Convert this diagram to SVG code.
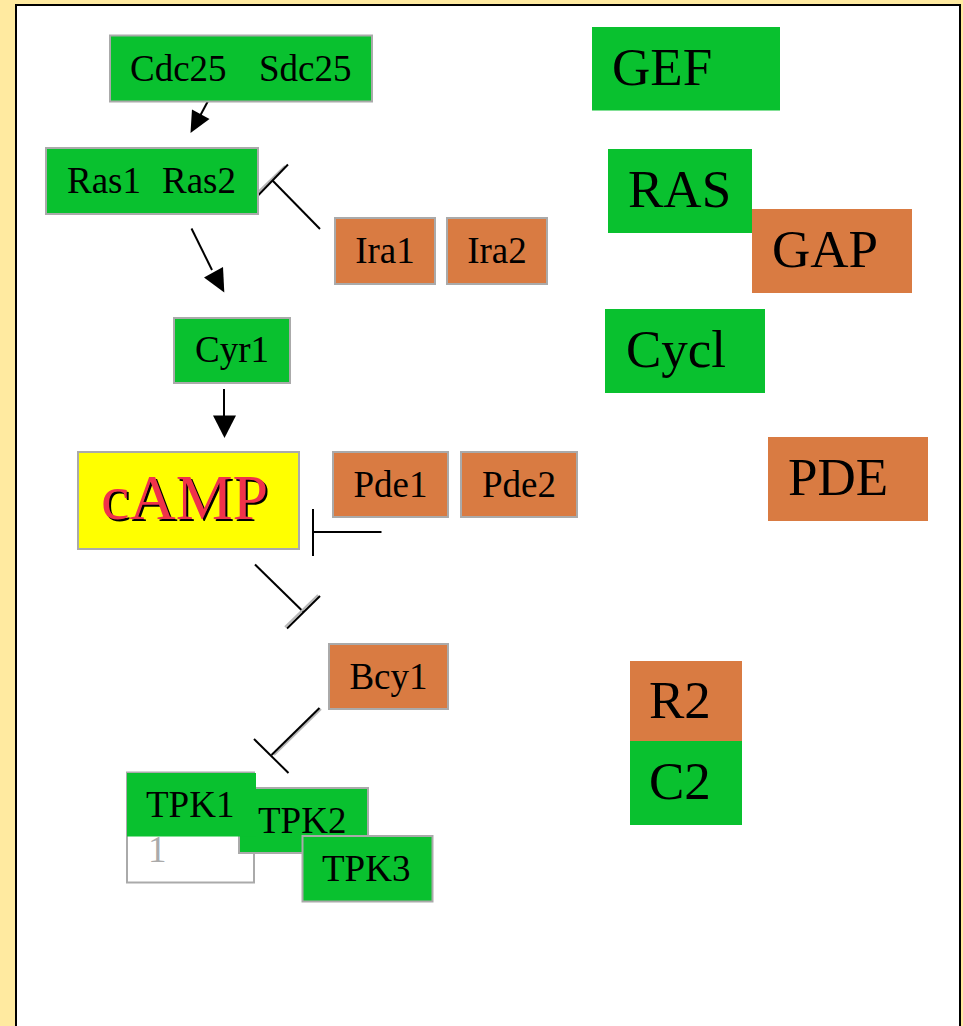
<svg xmlns="http://www.w3.org/2000/svg" width="963" height="1026" viewBox="0 0 963 1026">
  <style>
    .box { stroke: #aaaaaa; stroke-width: 2; }
    .g { fill: #09c12f; }
    .o { fill: #d97b42; }
    .t { font-family: "Liberation Serif", "Times New Roman", serif; font-size: 37px; fill: #000; }
    .big { font-family: "Liberation Serif", "Times New Roman", serif; font-size: 53px; fill: #000; }
    .ln { stroke: #000; stroke-width: 2; fill: none; }
    .sh { stroke: #b8b8b8; stroke-width: 2; fill: none; }
  </style>
  <rect x="0" y="0" width="963" height="1026" fill="#ffeaa0"/>
  <rect x="16" y="5" width="944" height="1040" fill="#ffffff" stroke="#000" stroke-width="2"/>

  <g id="connectors">
    <!-- Cdc25 -> Ras -->
    <line class="ln" x1="208" y1="101" x2="200" y2="116"/>
    <polygon points="190.5,133 192,109.5 209.5,119" fill="#000"/>
    <!-- Ira -| Ras -->
    <line class="sh" x1="255" y1="195" x2="285" y2="166"/>
    <line class="ln" x1="257" y1="196.5" x2="288" y2="164.5"/>
    <line class="ln" x1="272.5" y1="180.5" x2="320" y2="229"/>
    <!-- Ras -> Cyr1 -->
    <line class="ln" x1="191.5" y1="228.5" x2="212" y2="270"/>
    <polygon points="224.3,292.5 204,277.5 223,267" fill="#000"/>
    <!-- Cyr1 -> cAMP -->
    <line class="ln" x1="224" y1="389" x2="224" y2="418"/>
    <polygon points="224.5,438 213,415.5 236,415.5" fill="#000"/>
    <!-- Pde -| cAMP -->
    <line class="ln" x1="313" y1="509" x2="313" y2="556"/>
    <line class="ln" x1="313" y1="532" x2="381.5" y2="532"/>
    <!-- cAMP -| Bcy1 -->
    <line class="ln" x1="255" y1="564.5" x2="303.5" y2="612"/>
    <line class="sh" x1="285" y1="627" x2="318" y2="595"/>
    <line class="ln" x1="287" y1="628.5" x2="320" y2="596"/>
    <!-- Bcy1 -| TPK -->
    <line class="sh" x1="321" y1="709" x2="274" y2="755"/>
    <line class="ln" x1="319.5" y1="708" x2="271.5" y2="755"/>
    <line class="ln" x1="254" y1="739" x2="288.5" y2="773"/>
  </g>

  <g id="cdc25">
    <rect class="box g" x="110" y="35.5" width="262" height="66"/>
    <text class="t" x="130" y="81">Cdc25</text>
    <text class="t" x="259" y="81">Sdc25</text>
  </g>
  <g id="ras">
    <rect class="box g" x="46" y="148" width="212" height="66"/>
    <text class="t" x="67" y="193">Ras1</text>
    <text class="t" x="162" y="193">Ras2</text>
  </g>
  <g id="ira1">
    <rect class="box o" x="335" y="218" width="100" height="66"/>
    <text class="t" x="385" y="263" text-anchor="middle">Ira1</text>
  </g>
  <g id="ira2">
    <rect class="box o" x="447" y="218" width="100" height="66"/>
    <text class="t" x="497" y="263" text-anchor="middle">Ira2</text>
  </g>
  <g id="cyr1">
    <rect class="box g" x="174" y="318" width="116" height="65"/>
    <text class="t" x="232" y="362" text-anchor="middle">Cyr1</text>
  </g>
  <g id="camp">
    <rect class="box" x="78" y="452" width="221" height="97" fill="#ffff00"/>
    <text x="103" y="521" font-family="Liberation Serif, Times New Roman, serif" font-size="64" fill="#000">cAMP</text>
    <text x="101" y="519" font-family="Liberation Serif, Times New Roman, serif" font-size="64" fill="#f0334a">cAMP</text>
  </g>
  <g id="pde1">
    <rect class="box o" x="333" y="452" width="115" height="65"/>
    <text class="t" x="390.5" y="497" text-anchor="middle">Pde1</text>
  </g>
  <g id="pde2">
    <rect class="box o" x="461" y="452" width="116" height="65"/>
    <text class="t" x="519" y="497" text-anchor="middle">Pde2</text>
  </g>
  <g id="bcy1">
    <rect class="box o" x="329" y="644" width="119" height="65"/>
    <text class="t" x="388.5" y="689" text-anchor="middle">Bcy1</text>
  </g>
  <g id="tpk">
    <rect class="box" x="127" y="772.5" width="127" height="110" fill="#ffffff"/>
    <text class="t" x="148" y="862" style="fill:#aaaaaa">1</text>
    <rect class="box g" x="239" y="788" width="129" height="65"/>
    <text class="t" x="258" y="833">TPK2</text>
    <rect class="g" x="127" y="773" width="129" height="63.5"/>
    <text class="t" x="146" y="817">TPK1</text>
    <rect class="box g" x="302.5" y="836" width="130" height="65.5"/>
    <text class="t" x="322" y="881">TPK3</text>
  </g>

  <g id="gef">
    <rect class="g" x="592" y="27" width="188" height="83.5"/>
    <text class="big" x="612" y="85">GEF</text>
  </g>
  <g id="ras-legend">
    <rect class="g" x="608" y="149" width="144" height="84"/>
    <text class="big" x="628" y="207">RAS</text>
  </g>
  <g id="gap">
    <rect class="o" x="752" y="209" width="160" height="84"/>
    <text class="big" x="772" y="267">GAP</text>
  </g>
  <g id="cycl">
    <rect class="g" x="605" y="309" width="160" height="84"/>
    <text class="big" x="626" y="367">Cycl</text>
  </g>
  <g id="pde">
    <rect class="o" x="768" y="437" width="160" height="84"/>
    <text class="big" x="788" y="495">PDE</text>
  </g>
  <g id="r2">
    <rect class="o" x="630" y="661" width="112" height="80"/>
    <text class="big" x="649" y="718">R2</text>
  </g>
  <g id="c2">
    <rect class="g" x="630" y="741" width="112" height="84"/>
    <text class="big" x="649" y="799">C2</text>
  </g>
</svg>
